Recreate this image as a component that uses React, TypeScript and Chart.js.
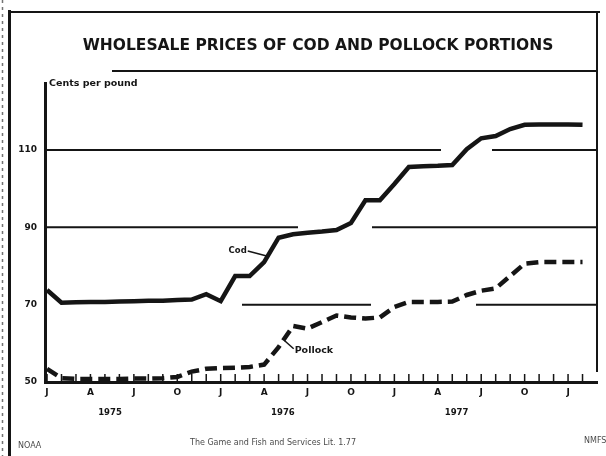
import React, { useEffect, useRef } from "react";
import { Chart, registerables } from "chart.js";

Chart.register(...registerables);

// ---- data ----
const months = [
  "Jan 1975", "Feb 1975", "Mar 1975", "Apr 1975", "May 1975", "Jun 1975",
  "Jul 1975", "Aug 1975", "Sep 1975", "Oct 1975", "Nov 1975", "Dec 1975",
  "Jan 1976", "Feb 1976", "Mar 1976", "Apr 1976", "May 1976", "Jun 1976",
  "Jul 1976", "Aug 1976", "Sep 1976", "Oct 1976", "Nov 1976", "Dec 1976",
  "Jan 1977", "Feb 1977", "Mar 1977", "Apr 1977", "May 1977", "Jun 1977",
  "Jul 1977", "Aug 1977", "Sep 1977", "Oct 1977", "Nov 1977", "Dec 1977",
  "Jan 1978", "Feb 1978",
];

const codPrices = [
  73.8, 70.5, 70.6, 70.7, 70.7, 70.8, 70.9, 71.0, 71.0, 71.2,
  71.3, 72.7, 70.9, 77.4, 77.4, 81.0, 87.3, 88.2, 88.6, 88.9,
  89.3, 91.1, 97.0, 97.0, 101.2, 105.6, 105.8, 105.9, 106.1, 110.2,
  113.0, 113.6, 115.4, 116.5, 116.6, 116.6, 116.6, 116.5,
];

const pollockPrices = [
  53.4, 51.0, 50.8, 50.8, 50.8, 50.8, 50.9, 50.9, 51.0, 51.3,
  52.7, 53.4, 53.6, 53.7, 53.9, 54.5, 59.0, 64.5, 63.8, 65.5,
  67.2, 66.7, 66.4, 66.7, 69.4, 70.7, 70.7, 70.7, 70.8, 72.5,
  73.6, 74.2, 77.4, 80.6, 81.0, 81.0, 81.0, 81.0,
];

const yTickValues = [50, 70, 90, 110];
const yTickLabels = ["50", "70", "90", "110"];
const yearLabels = ["1975", "1976", "1977"];
const yearCenters = [4.35, 16.3, 28.3];

const titleText = "WHOLESALE PRICES OF COD AND POLLOCK PORTIONS";
const unitText = "Cents per pound";
const footerLeft = "NOAA";
const footerCenter = "The Game and Fish and Services Lit. 1.77";
const footerRight = "NMFS";

const INK = "#151515";
const FONT = '"DejaVu Sans", "Noto Sans", sans-serif';

function interp(values: number[], at: number) {
  const i = Math.floor(at);
  const t = at - i;
  const a = values[i];
  const b = values[Math.min(values.length - 1, i + 1)];
  return a + (b - a) * t;
}

export default function App() {
  const ref = useRef<HTMLCanvasElement>(null);

  useEffect(() => {
    const canvas = ref.current;
    if (!canvas) return;

    const decor = {
      id: "decor",
      beforeDraw(chart: any) {
        const { ctx, chartArea: ca } = chart;
        ctx.save();
        ctx.fillStyle = "#fff";
        ctx.fillRect(0, 0, chart.width, chart.height);
        ctx.strokeStyle = INK;
        // frame
        ctx.lineWidth = 3;
        ctx.beginPath();
        ctx.moveTo(9.5, 10);
        ctx.lineTo(9.5, chart.height);
        ctx.stroke();
        ctx.lineWidth = 2;
        ctx.beginPath();
        ctx.moveTo(8, 12);
        ctx.lineTo(600, 12);
        ctx.moveTo(ca.right, 12);
        ctx.lineTo(ca.right, ca.bottom - 10);
        ctx.stroke();
        // faint scan edge
        ctx.lineWidth = 1.5;
        ctx.setLineDash([3, 4]);
        ctx.globalAlpha = 0.6;
        ctx.beginPath();
        ctx.moveTo(2.5, 0);
        ctx.lineTo(2.5, chart.height);
        ctx.stroke();
        ctx.setLineDash([]);
        ctx.globalAlpha = 1;
        // line above plot
        ctx.lineWidth = 2;
        ctx.beginPath();
        ctx.moveTo(ca.left + 67, ca.top - 12);
        ctx.lineTo(ca.right + 1, ca.top - 12);
        ctx.stroke();
        // title
        ctx.fillStyle = INK;
        ctx.font = `bold 15.5px ${FONT}`;
        ctx.textAlign = "center";
        ctx.textBaseline = "middle";
        ctx.fillText(titleText, 318, 46);
        // footer
        ctx.font = `8px ${FONT}`;
        ctx.globalAlpha = 0.8;
        ctx.textAlign = "left";
        ctx.fillText(footerLeft, 18, 446);
        ctx.fillText(footerCenter, 190, 443);
        ctx.fillText(footerRight, 584, 441);
        ctx.restore();
      },
      beforeDatasetsDraw(chart: any) {
        const { ctx, chartArea: ca, scales } = chart;
        const xs = scales.x;
        const ys = scales.y;
        const lines = chart.data.datasets.map((_: any, i: number) =>
          chart.getDatasetMeta(i).data.map((p: any) => ({ x: p.x, y: p.y }))
        );
        const yAt = (pts: { x: number; y: number }[], x: number) => {
          if (x < pts[0].x || x > pts[pts.length - 1].x) return null;
          for (let k = 1; k < pts.length; k++) {
            if (x <= pts[k].x) {
              const a = pts[k - 1];
              const b = pts[k];
              const t = (x - a.x) / (b.x - a.x);
              return a.y + t * (b.y - a.y);
            }
          }
          return null;
        };
        ctx.save();
        ctx.strokeStyle = INK;
        ctx.lineWidth = 2;
        // broken horizontal rules (interrupted where a price line runs close)
        for (const v of yTickValues) {
          if (v <= ys.min) continue;
          const yL = ys.getPixelForValue(v);
          const x0 = Math.round(ca.left);
          const x1 = Math.round(ca.right);
          const n = x1 - x0 + 1;
          const near: boolean[] = new Array(n).fill(false);
          for (let i = 0; i < n; i++) {
            for (const pts of lines) {
              const y = yAt(pts, x0 + i);
              if (y !== null && Math.abs(y - yL) < 4.5) near[i] = true;
            }
          }
          const blocked: boolean[] = new Array(n).fill(false);
          const R = 20;
          for (let i = 0; i < n; i++) {
            if (!near[i]) continue;
            for (let j = Math.max(0, i - R); j <= Math.min(n - 1, i + R); j++) blocked[j] = true;
          }
          ctx.beginPath();
          let start = -1;
          for (let i = 0; i <= n; i++) {
            const free = i < n && !blocked[i];
            if (free && start < 0) start = i;
            if (!free && start >= 0) {
              if (i - start > 12 || start === 0) {
                ctx.moveTo(x0 + start, yL);
                ctx.lineTo(x0 + i - 1, yL);
              }
              start = -1;
            }
          }
          ctx.stroke();
        }
        // inward month ticks
        ctx.lineWidth = 1.5;
        ctx.beginPath();
        months.forEach((_, i) => {
          const x = xs.getPixelForValue(i);
          ctx.moveTo(x, ca.bottom - 1);
          ctx.lineTo(x, ca.bottom - 8);
        });
        ctx.stroke();
        ctx.restore();
      },
      afterDatasetsDraw(chart: any) {
        const { ctx, chartArea: ca, scales } = chart;
        const xs = scales.x;
        const ys = scales.y;
        ctx.save();
        ctx.strokeStyle = INK;
        ctx.fillStyle = INK;
        ctx.lineWidth = 1.5;
        // Cod label
        const cAt = 15.25;
        const cx = xs.getPixelForValue(cAt);
        const cy = ys.getPixelForValue(interp(codPrices, cAt));
        ctx.beginPath();
        ctx.moveTo(cx - 20, cy - 5);
        ctx.lineTo(cx - 1, cy);
        ctx.stroke();
        ctx.font = `bold 8.5px ${FONT}`;
        ctx.textAlign = "right";
        ctx.textBaseline = "middle";
        ctx.fillText("Cod", cx - 21, cy - 5);
        // Pollock label
        const pAt = 16.35;
        const px = xs.getPixelForValue(pAt);
        const py = ys.getPixelForValue(interp(pollockPrices, pAt));
        ctx.beginPath();
        ctx.moveTo(px + 1, py + 1);
        ctx.lineTo(px + 10, py + 9);
        ctx.stroke();
        ctx.font = `bold 9.5px ${FONT}`;
        ctx.textAlign = "left";
        ctx.fillText("Pollock", px + 11, py + 11);
        // unit label
        ctx.font = `bold 9.5px ${FONT}`;
        ctx.textAlign = "left";
        ctx.fillText(unitText, ca.left + 4, ca.top + 1);
        ctx.restore();
      },
    };

    const tickFont = { family: FONT, size: 9, weight: "bold" as const };

    const chart = new Chart(canvas, {
      type: "line",
      data: {
        datasets: [
          {
            label: "Cod",
            data: codPrices.map((v, i) => ({ x: i, y: v })),
            borderColor: INK,
            borderWidth: 4.5,
            pointRadius: 0,
            tension: 0,
            fill: false,
            borderJoinStyle: "miter",
          },
          {
            label: "Pollock",
            data: pollockPrices.map((v, i) => ({ x: i, y: v })),
            borderColor: INK,
            borderWidth: 4.5,
            borderDash: [12, 6],
            pointRadius: 0,
            tension: 0,
            fill: false,
          },
        ],
      },
      options: {
        responsive: false,
        animation: false,
        devicePixelRatio: 1,
        layout: { padding: { left: 0, right: 9, top: 83, bottom: 34 } },
        plugins: {
          legend: { display: false },
          tooltip: { enabled: false },
          title: { display: false },
        },
        scales: {
          x: {
            type: "linear",
            position: "bottom",
            min: -0.14,
            max: 38.0,
            afterBuildTicks: (a: any) => {
              a.ticks = months.map((_, i) => ({ value: i }));
            },
            afterFit: (s: any) => {
              s.height = 16;
            },
            ticks: {
              autoSkip: false,
              maxRotation: 0,
              padding: 5,
              color: INK,
              font: tickFont,
              callback: (v: any) => {
                const i = Math.round(Number(v));
                return i % 3 === 0 && months[i] ? months[i].charAt(0) : "";
              },
            },
            grid: { display: true, drawOnChartArea: false, drawTicks: false },
            border: { display: true, color: INK, width: 3 },
          },
          x2: {
            type: "linear",
            position: "bottom",
            min: -0.14,
            max: 38.0,
            afterBuildTicks: (a: any) => {
              a.ticks = yearCenters.map((v) => ({ value: v }));
            },
            afterFit: (s: any) => {
              s.height = 24;
            },
            ticks: {
              autoSkip: false,
              maxRotation: 0,
              padding: 2,
              color: INK,
              font: { family: FONT, size: 8.5, weight: "bold" as const },
              callback: (_v: any, i: number) => yearLabels[i],
            },
            grid: { display: false },
            border: { display: false },
          },
          y: {
            type: "linear",
            min: 50,
            max: 127.3,
            afterBuildTicks: (a: any) => {
              a.ticks = yTickValues.map((v) => ({ value: v }));
            },
            afterFit: (s: any) => {
              s.width = 45;
            },
            ticks: {
              padding: 8,
              color: INK,
              font: tickFont,
              callback: (_v: any, i: number) => yTickLabels[i],
            },
            grid: { display: true, drawOnChartArea: false, drawTicks: false },
            border: { display: true, color: INK, width: 3 },
          },
        },
      },
      plugins: [decor],
    } as any);

    return () => chart.destroy();
  }, []);

  return (
    <div style={{ position: "fixed", left: 0, top: 0, width: 606, height: 456, background: "#fff" }}>
      <canvas ref={ref} width={606} height={456} style={{ display: "block", width: 606, height: 456 }} />
    </div>
  );
}
